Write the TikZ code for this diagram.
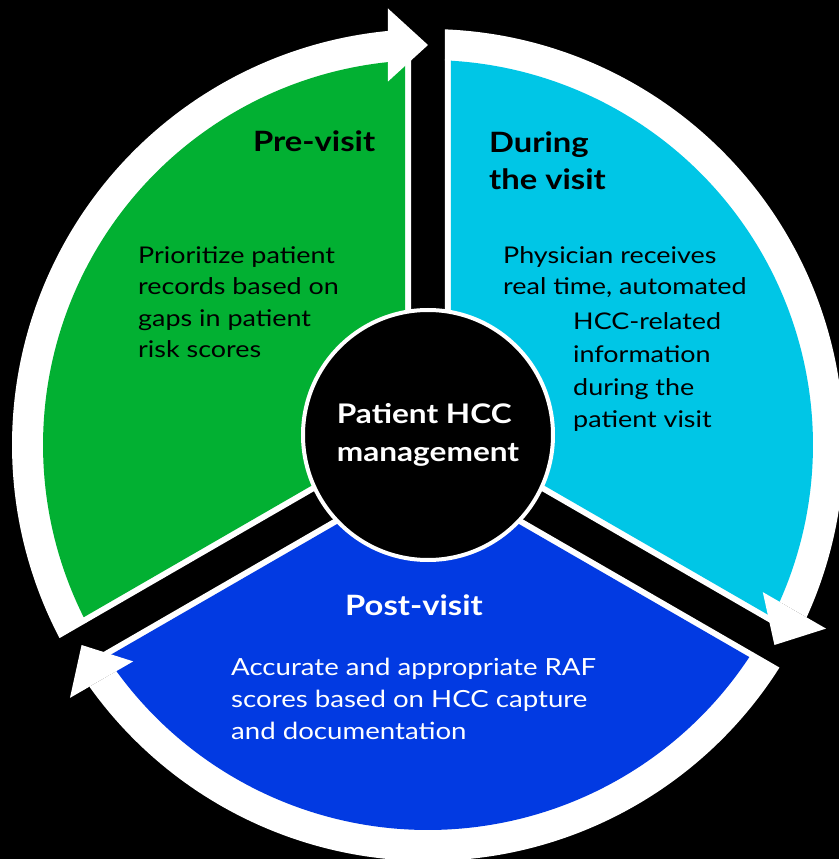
\documentclass[tikz,border=0pt]{standalone}
\usepackage{fontspec}
\setmainfont{Lato}[FakeStretch=1.17]
\definecolor{cgreen}{RGB}{2,176,50}
\definecolor{ccyan}{RGB}{0,198,230}
\definecolor{cblue}{RGB}{2,58,226}
\newcommand\fillsector[4]{% #1 style, #2 lower angle, #3 offset, #4 radius
  \pgfmathsetmacro\mySA{#2+asin(#3/#4)}%
  \pgfmathsetmacro\mySB{#2+120-asin(#3/#4)}%
  \pgfmathsetmacro\mySV{#3/sin(60)}%
  \pgfmathsetmacro\mySM{#2+60}%
  \fill[#1] (\mySM:\mySV) -- (\mySA:#4) arc[start angle=\mySA, end angle=\mySB, radius=#4] -- cycle;
}
\newcommand\fillband[1]{% #1 lower angle (arrow end)
  \pgfmathsetmacro\myBU{#1+120}%
  \pgfmathsetmacro\myBAi{\myBU-asin(17/385)}%
  \pgfmathsetmacro\myBAo{\myBU-asin(17/416)}%
  \pgfmathsetmacro\myBBo{#1+asin(40/416)}%
  \pgfmathsetmacro\myBBi{#1+asin(40/385)}%
  \fill[white] (\myBAi:385) -- (\myBAo:416) arc[start angle=\myBAo, end angle=\myBBo, radius=416] -- (\myBBi:385) arc[start angle=\myBBi, end angle=\myBAi, radius=385] -- cycle;
}
\newcommand\filltip[1]{%
  \fill[white, rotate=#1] (400,0) -- (363.5,40) -- (436.5,40) -- cycle;
}
\begin{document}
\begin{tikzpicture}[x=1pt,y=1pt,
  body/.style={font=\fontsize{23}{31.6}\selectfont, align=left, anchor=base west, inner sep=0pt},
  title/.style={font=\bfseries\fontsize{28}{37}\selectfont, align=left, anchor=base west, inner sep=0pt},
  hub/.style={circle, fill=black, draw=white, line width=4pt, minimum size=250pt, inner sep=0pt,
    text=white, font=\bfseries\fontsize{27}{38}\selectfont, align=left}]
\useasboundingbox (-428,-414) rectangle (411,445);
\fill[black] (-428,-414) rectangle (411,445);
% white outlines and bands
\fillsector{white}{90}{17}{386}
\fillsector{white}{-30}{17}{386}
\fillsector{white}{210}{17}{386}
\fillband{90}
\fillband{-30}
\fillband{210}
% coloured sectors
\fillsector{cgreen}{90}{23}{385}
\fillsector{ccyan}{-30}{23}{385}
\fillsector{cblue}{210}{23}{385}
% arrow heads
\filltip{90}
\filltip{-30}
\filltip{210}
% centre
\node[hub] (hub) at (0,10) {Patient HCC\\management};
% texts (anchored at the baseline of the last line)
\node[title] (pre) at (-175,293) {Pre-visit};
\node[body] (pretext) at (-290,87) {Prioritize patient\\records based on\\gaps in patient\\risk scores};
\node[title] (during) at (61,255) {During\\the visit};
\node[body] (duringa) at (75,150) {Physician receives\\real time, automated};
\node[body, font=\fontsize{23}{32.7}\selectfont] (duringb) at (145,17) {HCC-related\\information\\during the\\patient visit};
\node[title, text=white] (post) at (-83,-170) {Post-visit};
\node[body, text=white, font=\fontsize{23.6}{32}\selectfont] (posttext) at (-197,-294) {Accurate and appropriate RAF\\scores based on HCC capture\\and documentation};
\end{tikzpicture}
\end{document}
